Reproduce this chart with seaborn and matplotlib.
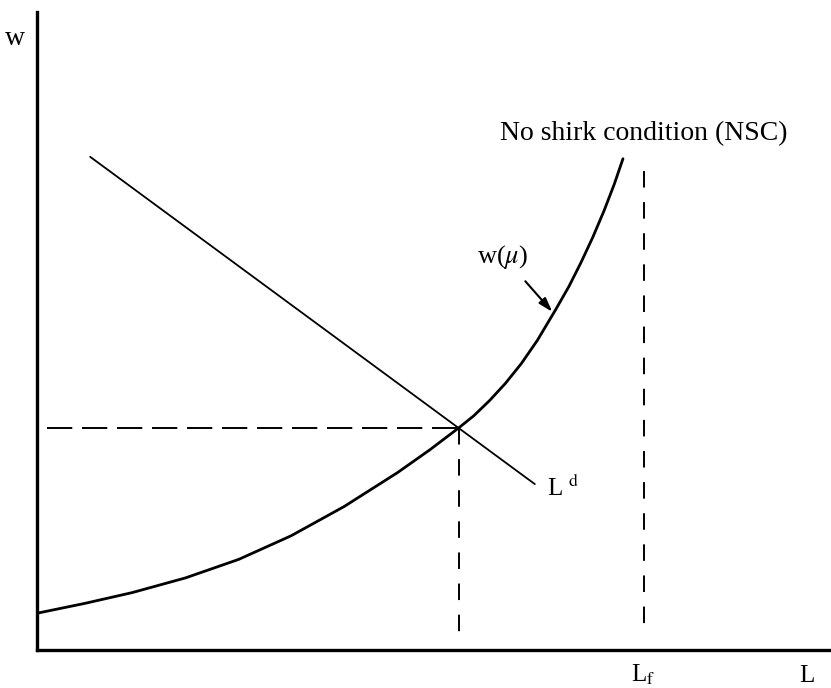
import matplotlib
matplotlib.use("Agg")
import matplotlib.pyplot as plt
import pandas as pd
import seaborn as sns

# Values (L on x, w on y, both on a 0-100 scale)
nsc_L = [0.15, 6, 12, 18.7, 25.4, 32, 38.7, 45.4, 49.5, 53.1, 55, 57, 59, 61,
         63, 65.3, 67, 68.5, 70, 71.4, 72.7, 73.8]
nsc_w = [5.8, 7.3, 9.0, 11.3, 14.2, 17.9, 22.5, 27.8, 31.4, 34.8, 36.7, 39.1, 41.8, 44.9,
         48.5, 53.3, 57.0, 60.7, 64.7, 68.8, 73.0, 77.0]

ld_L = [6.7, 62.7]
ld_w = [77.3, 26.0]

eq_L = 53.1      # equilibrium employment
eq_w = 34.8      # equilibrium wage
L_f = 76.4       # full employment
L_f_top = 75.1

sns.set_theme(style="white")
plt.rcParams['font.family'] = ['Liberation Serif', 'DejaVu Serif']
plt.rcParams['mathtext.fontset'] = 'stix'
plt.rcParams['text.color'] = 'black'

fig = plt.figure(figsize=(8.31, 6.88), dpi=100)
ax = fig.add_axes([37 / 831, 38 / 688, 794 / 831, 638 / 688])

nsc = pd.DataFrame({'L': nsc_L, 'w': nsc_w})
ld = pd.DataFrame({'L': ld_L, 'w': ld_w})

sns.lineplot(data=nsc, x='L', y='w', sort=False, estimator=None,
             color='black', lw=2.0, solid_joinstyle='round', ax=ax)
sns.lineplot(data=ld, x='L', y='w', sort=False, estimator=None,
             color='black', lw=1.3, ax=ax)

# dashed guide lines
ax.plot([1.3, eq_L], [eq_w, eq_w], color='black', lw=1.4, dashes=(13, 5))
ax.plot([eq_L, eq_L], [eq_w, 1.4], color='black', lw=1.4, dashes=(8.5, 7.5))
ax.plot([L_f, L_f], [L_f_top, 2.2], color='black', lw=1.4, dashes=(8.5, 7.5))

# labels
ax.text(76.4, 80.9, "No shirk condition (NSC)", ha='center', va='center', fontsize=20)
ax.text(58.6, 61.6, r"w($\mu$)", ha='center', va='center', fontsize=19)
ax.annotate("", xy=(64.9, 53.0), xytext=(61.5, 57.8),
            arrowprops=dict(arrowstyle='-|>,head_length=0.7,head_width=0.22',
                            color='black', lw=1.5, shrinkA=0, shrinkB=0))
ax.text(64.2, 24.1, r"L $^{\mathrm{d}}$", ha='left', va='baseline', fontsize=18)
ax.text(76.4, -5.0, r"L$_{\mathrm{f}}$", ha='center', va='baseline', fontsize=18, clip_on=False)
ax.text(97.0, -5.0, "L", ha='center', va='baseline', fontsize=18, clip_on=False)
ax.text(-2.8, 95.9, "w", ha='center', va='center', fontsize=20, clip_on=False)

ax.set_xlim(0, 100)
ax.set_ylim(0, 100)
ax.set_xticks([])
ax.set_yticks([])
ax.set_xlabel("")
ax.set_ylabel("")
for side in ['top', 'right']:
    ax.spines[side].set_visible(False)
for side in ['left', 'bottom']:
    ax.spines[side].set_color('black')
    ax.spines[side].set_linewidth(2.4)

fig.savefig("out.png", dpi=100, facecolor='white')
